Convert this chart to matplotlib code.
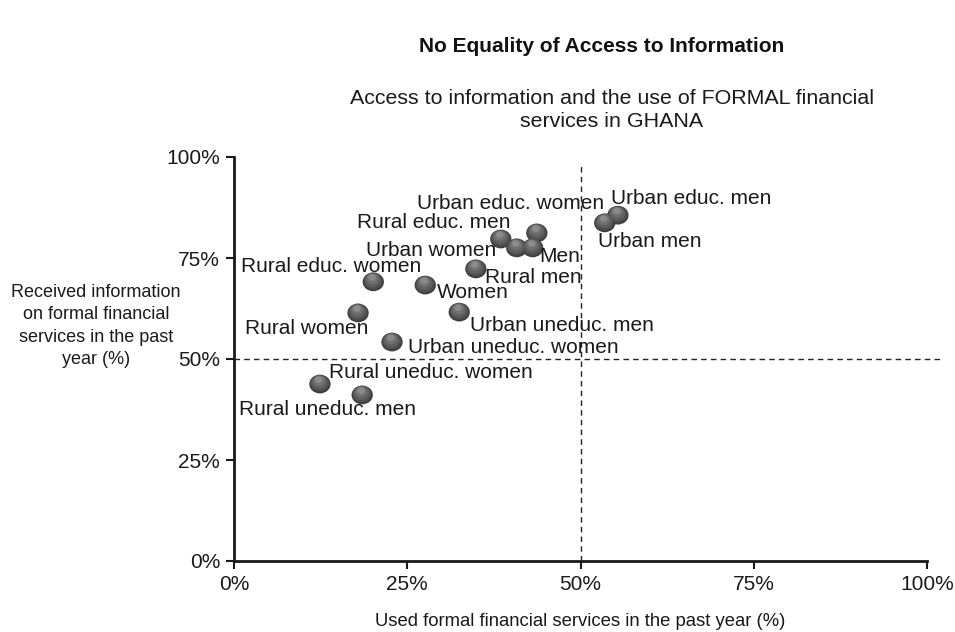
import matplotlib
matplotlib.use("Agg")
import matplotlib.pyplot as plt
import matplotlib.ticker as mticker
from matplotlib.path import Path
from matplotlib.transforms import ScaledTranslation

plt.rcParams['font.family'] = ['Liberation Sans', 'DejaVu Sans']

# Segments of the population
groups = [
    "Urban educ. men", "Urban men", "Urban educ. women", "Rural educ. men",
    "Urban women", "Men", "Rural men", "Rural educ. women", "Women",
    "Urban uneduc. men", "Rural women", "Urban uneduc. women",
    "Rural uneduc. women", "Rural uneduc. men",
]
# Share using formal financial services in the past year (%)
used_formal = [55.4, 53.5, 43.7, 38.5, 40.8, 43.1, 34.9, 20.1, 27.6,
               32.5, 17.9, 22.8, 12.4, 18.5]
# Share that received information on formal financial services (%)
received_info = [85.6, 83.7, 81.2, 79.7, 77.5, 77.5, 72.3, 69.1, 68.3,
                 61.6, 61.4, 54.2, 43.8, 41.1]

x_ticks = [0, 25, 50, 75, 100]
y_ticks = [0, 25, 50, 75, 100]

# label placement: (dx, dy) in pixels, horizontal alignment
label_pos = {
    "Urban educ. men": (-7, 17, "left"),
    "Urban men": (-7, -19, "left"),
    "Urban educ. women": (67, 29, "right"),
    "Rural educ. men": (10, 17, "right"),
    "Urban women": (-20, -3, "right"),
    "Men": (7, -9, "left"),
    "Rural men": (9, -9, "left"),
    "Rural educ. women": (48, 15, "right"),
    "Women": (12, -7, "left"),
    "Urban uneduc. men": (11, -13, "left"),
    "Rural women": (10, -16, "right"),
    "Urban uneduc. women": (16, -5, "left"),
    "Rural uneduc. women": (9, 12, "left"),
    "Rural uneduc. men": (-35, -15, "center"),
}

fig = plt.figure(figsize=(9.55, 6.32), dpi=100)
ax = fig.add_axes([234 / 955, 1 - 561 / 632, (927 - 234) / 955, (561 - 157) / 632])

ax.set_xlim(0, 100)
ax.set_ylim(0, 100)

# reference lines at 50 %
ax.plot([50, 50], [0, 98.5], ls=(0, (4, 3)), color="#222222", lw=1.0, zorder=1)
ax.plot([0, 102], [50, 50], ls=(0, (4, 3)), color="#222222", lw=1.0, zorder=1,
        clip_on=False)

# slightly flattened sphere marker, shaded with stacked layers
circle = Path.unit_circle()
ellipse = Path(circle.vertices * [1.0, 0.88], circle.codes)
layers = [  # size, colour, dx, dy (points)
    (235, "#3e3e3e", 0.0, 0.0),
    (185, "#4f4f4f", -0.2, 0.6),
    (130, "#5f5f5f", -0.4, 1.3),
    (75, "#707070", -0.6, 2.2),
    (30, "#8a8a8a", -0.8, 3.1),
]
for size, colour, dx, dy in layers:
    shift = ScaledTranslation(dx / 72, dy / 72, fig.dpi_scale_trans)
    ax.scatter(used_formal, received_info, s=size, marker=ellipse, color=colour,
               edgecolors="none", zorder=3, transform=ax.transData + shift)

for name, xv, yv in zip(groups, used_formal, received_info):
    dx, dy, ha = label_pos[name]
    ax.annotate(name, (xv, yv), xytext=(dx, dy), textcoords="offset pixels",
                ha=ha, va="center", fontsize=15, color="#1a1a1a", zorder=6)

ax.xaxis.set_major_locator(mticker.FixedLocator(x_ticks))
ax.yaxis.set_major_locator(mticker.FixedLocator(y_ticks))
ax.xaxis.set_major_formatter(mticker.FuncFormatter(lambda v, p: f"{v:.0f}%"))
ax.yaxis.set_major_formatter(mticker.FuncFormatter(lambda v, p: f"{v:.0f}%"))
ax.tick_params(axis="both", direction="out", length=6, width=1.5,
               labelsize=15, colors="#1a1a1a", pad=4)

for side in ("top", "right"):
    ax.spines[side].set_visible(False)
for side in ("left", "bottom"):
    ax.spines[side].set_linewidth(2)
    ax.spines[side].set_color("#1a1a1a")

ax.set_xlabel("Used formal financial services in the past year (%)",
              fontsize=13.3, color="#1a1a1a", labelpad=14)
fig.text(96 / 955, 1 - 326 / 632,
         "Received information\non formal financial\nservices in the past\nyear (%)",
         ha="center", va="center", fontsize=13, color="#1a1a1a",
         multialignment="center", linespacing=1.4)

fig.text(602 / 955, 1 - 46 / 632, "No Equality of Access to Information",
         ha="center", va="center", fontsize=15, fontweight="bold", color="#111111")
fig.text(612 / 955, 1 - 110 / 632,
         "Access to information and the use of FORMAL financial\nservices in GHANA",
         ha="center", va="center", fontsize=15.4, color="#1a1a1a", linespacing=1.3)

fig.savefig("out.png", dpi=100)
